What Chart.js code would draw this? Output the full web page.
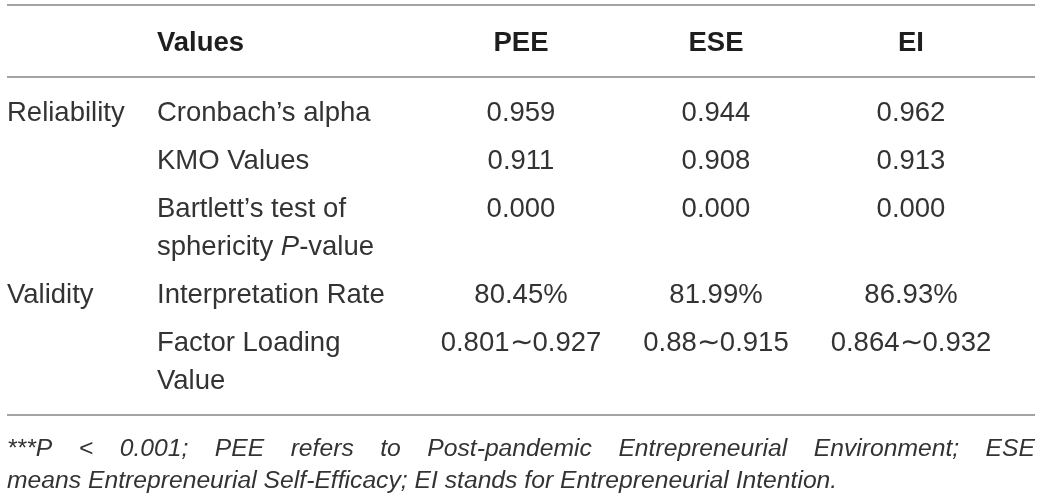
<!DOCTYPE html>
<html>
<head>
<meta charset="utf-8">
<script src="https://cdn.jsdelivr.net/npm/chart.js@4/dist/chart.umd.min.js"></script>
<style>
html,body{margin:0;padding:0;background:#fff;}
canvas{display:block;}
</style>
</head>
<body>
<canvas id="c" width="1042" height="502"></canvas>
<script>
// ---- table content ----
const columnTitles = ['', 'Values', 'PEE', 'ESE', 'EI'];
const groupLabels = ['Reliability', '', '', 'Validity', ''];
const measureLabels = [
  ['Cronbach’s alpha'],
  ['KMO Values'],
  ['Bartlett’s test of', 'sphericity _P_-value'],
  ['Interpretation Rate'],
  ['Factor Loading', 'Value']
];
const peeValues = ['0.959', '0.911', '0.000', '80.45%', '0.801∼0.927'];
const eseValues = ['0.944', '0.908', '0.000', '81.99%', '0.88∼0.915'];
const eiValues  = ['0.962', '0.913', '0.000', '86.93%', '0.864∼0.932'];
const footnoteLines = [
  '***P < 0.001; PEE refers to Post-pandemic Entrepreneurial Environment; ESE',
  'means Entrepreneurial Self-Efficacy; EI stands for Entrepreneurial Intention.'
];

// ---- layout (scale units) ----
const layout = {
  colX: [7, 157, 521, 716, 911],
  colAlign: ['left', 'left', 'center', 'center', 'center'],
  headerY: 43,
  rowY: [113, 161, 209, 295, 343],
  lineGap: 38,
  rules: [5, 77, 415],
  ruleX: [7, 1035],
  footY: 449,
  footGap: 32,
  font: '"Liberation Sans", Arial, sans-serif',
  size: 27.5,
  footSize: 24.7,
  color: '#333333',
  ruleColor: '#a3a3a3'
};

function drawRich(ctx, text, x, y, align, size) {
  // segments wrapped in _..._ are italic
  const parts = text.split('_');
  const segs = parts.map((t, i) => ({t, italic: i % 2 === 1})).filter(s => s.t.length);
  let total = 0;
  segs.forEach(s => {
    ctx.font = (s.italic ? 'italic ' : '') + size + 'px ' + layout.font;
    s.w = ctx.measureText(s.t).width;
    total += s.w;
  });
  let cx = align === 'center' ? x - total / 2 : x;
  ctx.textAlign = 'left';
  segs.forEach(s => {
    ctx.font = (s.italic ? 'italic ' : '') + size + 'px ' + layout.font;
    ctx.fillText(s.t, cx, y);
    cx += s.w;
  });
}

const tablePlugin = {
  id: 'tablePlugin',
  afterDraw(chart) {
    const ctx = chart.ctx;
    const xs = chart.scales.x, ys = chart.scales.y;
    const X = v => xs.getPixelForValue(v);
    const Y = v => ys.getPixelForValue(v);
    ctx.save();
    // rules
    ctx.strokeStyle = layout.ruleColor;
    ctx.lineWidth = 2;
    layout.rules.forEach(r => {
      ctx.beginPath();
      ctx.moveTo(X(layout.ruleX[0]), Y(r));
      ctx.lineTo(X(layout.ruleX[1]), Y(r));
      ctx.stroke();
    });
    ctx.textBaseline = 'middle';
    // header
    columnTitles.forEach((t, i) => {
      if (!t) return;
      ctx.font = 'bold ' + layout.size + 'px ' + layout.font;
      ctx.textAlign = layout.colAlign[i];
      ctx.fillStyle = '#1e1e1e';
      ctx.fillText(t, X(layout.colX[i]), Y(layout.headerY));
    });
    ctx.fillStyle = layout.color;
    // body
    const cols = [groupLabels, measureLabels, peeValues, eseValues, eiValues];
    layout.rowY.forEach((ry, r) => {
      cols.forEach((col, c) => {
        const cell = col[r];
        const lines = Array.isArray(cell) ? cell : [cell];
        lines.forEach((ln, k) => {
          if (!ln) return;
          drawRich(ctx, ln, X(layout.colX[c]), Y(ry + k * layout.lineGap), layout.colAlign[c], layout.size);
        });
      });
    });
    // footnote, justified (all lines except the last)
    ctx.font = 'italic ' + layout.footSize + 'px ' + layout.font;
    ctx.textAlign = 'left';
    const maxW = X(layout.ruleX[1]) - X(layout.ruleX[0]);
    const space = ctx.measureText(' ').width;
    footnoteLines.forEach((line, li) => {
      const lw = line.split(' ');
      const y = Y(layout.footY + li * layout.footGap);
      const widths = lw.map(w => ctx.measureText(w).width);
      const sum = widths.reduce((a, b) => a + b, 0);
      const last = li === footnoteLines.length - 1;
      const gap = (!last && lw.length > 1) ? (maxW - sum) / (lw.length - 1) : space;
      let cx = X(layout.ruleX[0]);
      lw.forEach((w, i) => { ctx.fillText(w, cx, y); cx += widths[i] + gap; });
    });
    ctx.restore();
  }
};

new Chart(document.getElementById('c'), {
  type: 'scatter',
  data: { datasets: [{ data: [], pointRadius: 0 }] },
  options: {
    responsive: false,
    animation: false,
    events: [],
    layout: { padding: 0 },
    plugins: { legend: { display: false }, tooltip: { enabled: false } },
    scales: {
      x: { type: 'linear', min: 0, max: 1042, display: false },
      y: { type: 'linear', min: 0, max: 502, reverse: true, display: false }
    }
  },
  plugins: [tablePlugin]
});
</script>
</body>
</html>
